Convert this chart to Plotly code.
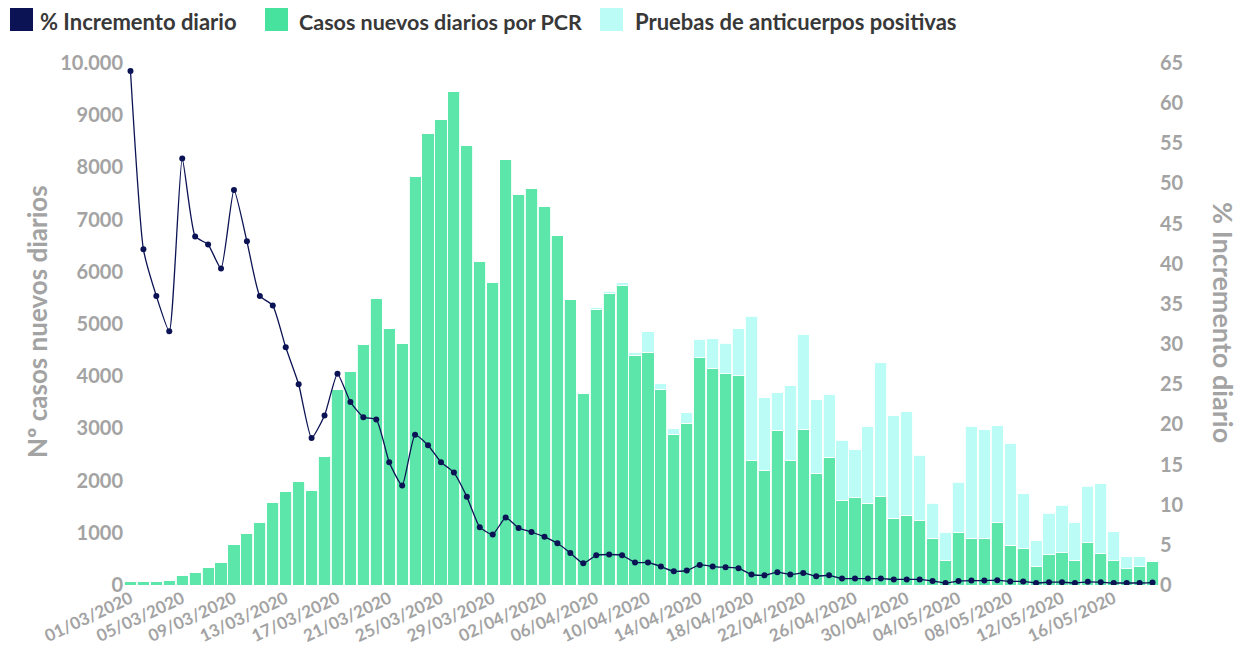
import datetime as dt
import plotly.graph_objects as go

# ---------------- data ----------------
fechas = [(dt.date(2020, 3, 1) + dt.timedelta(days=i)).strftime("%d/%m/%Y") for i in range(80)]

casos_pcr = [60, 65, 75, 90, 190, 230, 330, 440, 770, 990,
             1200, 1580, 1800, 1980, 1810, 2470, 3740, 4090, 4600, 5480,
             4920, 4620, 7820, 8650, 8920, 9450, 8420, 6200, 5800, 8150,
             7480, 7600, 7260, 6700, 5470, 3670, 5270, 5590, 5730, 4400,
             4460, 3740, 2890, 3100, 4350, 4140, 4050, 4010, 2380, 2190,
             2960, 2380, 2970, 2140, 2450, 1610, 1670, 1570, 1690, 1280,
             1340, 1240, 900, 460, 1010, 900, 900, 1200, 760, 690,
             350, 590, 620, 470, 820, 600, 460, 310, 350, 450]

total_con_anticuerpos = [60, 65, 75, 90, 190, 230, 330, 440, 770, 990,
                         1200, 1580, 1800, 1980, 1810, 2470, 3740, 4090, 4600, 5480,
                         4920, 4620, 7820, 8650, 8920, 9450, 8420, 6200, 5800, 8150,
                         7480, 7600, 7260, 6700, 5470, 3670, 5320, 5630, 5790, 4460,
                         4850, 3860, 2990, 3300, 4710, 4720, 4630, 4910, 5150, 3590,
                         3680, 3820, 4800, 3550, 3640, 2770, 2590, 3030, 4260, 3240,
                         3320, 2490, 1570, 1010, 1970, 3040, 2970, 3050, 2720, 1750,
                         850, 1370, 1530, 1190, 1890, 1940, 1020, 540, 540, 450]

anticuerpos = [t - p for t, p in zip(total_con_anticuerpos, casos_pcr)]

incremento = [64.0, 41.8, 36.0, 31.6, 53.1, 43.4, 42.4, 39.4, 49.2, 42.8,
              36.0, 34.8, 29.6, 25.0, 18.3, 21.1, 26.3, 22.8, 20.9, 20.6,
              15.3, 12.4, 18.7, 17.4, 15.3, 14.0, 11.0, 7.2, 6.3, 8.4,
              7.1, 6.6, 6.0, 5.2, 4.0, 2.7, 3.7, 3.8, 3.7, 2.8,
              2.8, 2.3, 1.7, 1.8, 2.5, 2.3, 2.2, 2.1, 1.3, 1.2,
              1.6, 1.3, 1.5, 1.1, 1.2, 0.8, 0.8, 0.8, 0.8, 0.7,
              0.7, 0.7, 0.5, 0.25, 0.5, 0.55, 0.55, 0.6, 0.45, 0.45,
              0.25, 0.35, 0.35, 0.25, 0.4, 0.35, 0.25, 0.25, 0.25, 0.3]

y_left_ticks = [0, 1000, 2000, 3000, 4000, 5000, 6000, 7000, 8000, 9000, 10000]
y_left_text = ["0", "1000", "2000", "3000", "4000", "5000", "6000", "7000", "8000", "9000", "10.000"]
x_tick_vals = fechas[::4]

legend_names = ["% Incremento diario", "Casos nuevos diarios por PCR", "Pruebas de anticuerpos positivas"]

# ---------------- style ----------------
NAVY = "#0b1354"
GREEN = "#5ce6aa"
GREEN_SW = "#48e29f"
CYAN = "#bbfdf6"
GREY = "#a3a3a3"
FONT = "Lato"

# page body has an 8px margin: work in screen pixels, shift by OFF
OFF = 8
W, H = 1247 - 2 * OFF, 653 - 2 * OFF
PLOT_L, PLOT_R, PLOT_T, PLOT_B = 124, 1159, 63, 585   # screen px of plot area
L = PLOT_L - OFF
R = W - (PLOT_R - OFF)
T = PLOT_T - OFF
B = H - (PLOT_B - OFF)
PW, PH = W - L - R, H - T - B


def xp(px):
    return (px - PLOT_L) / PW


def yp(py):
    return (PLOT_B - py) / PH


fig = go.Figure()

fig.add_trace(go.Bar(
    x=fechas, y=casos_pcr, name=legend_names[1],
    marker=dict(color=GREEN, line=dict(color="rgba(255,255,255,0.85)", width=1)),
    yaxis="y"))
fig.add_trace(go.Bar(
    x=fechas, y=anticuerpos, name=legend_names[2],
    marker=dict(color=CYAN, line=dict(color="rgba(255,255,255,0.85)", width=1)),
    yaxis="y"))
fig.add_trace(go.Scatter(
    x=fechas, y=incremento, name=legend_names[0], mode="lines+markers",
    line=dict(color=NAVY, width=1.3, shape="spline", smoothing=0.5),
    marker=dict(color=NAVY, size=6),
    yaxis="y2"))

# manual legend (swatches + labels)
shapes = []
annotations = []
legend_pos = [(10, 38, NAVY, 22), (265, 297, GREEN_SW, 21.5), (600, 633, CYAN, 22)]
for nm, (sx, tx, col, fs) in zip(legend_names, legend_pos):
    shapes.append(dict(type="rect", xref="paper", yref="paper",
                       x0=xp(sx), x1=xp(sx + 23), y0=yp(31), y1=yp(8),
                       fillcolor=col, line=dict(width=0), layer="above"))
    annotations.append(dict(text=nm, xref="paper", yref="paper",
                            x=xp(tx), y=yp(21.5), xanchor="left", yanchor="middle",
                            showarrow=False,
                            font=dict(family=FONT, size=fs, color="#383838", weight="bold")))

# small mark at top-left
shapes.append(dict(type="line", xref="paper", yref="paper",
                   x0=xp(0), x1=xp(8), y0=yp(52), y1=yp(52),
                   line=dict(color="black", width=2)))

annotations += [
    dict(text="Nº casos nuevos diarios", xref="paper", yref="paper",
         x=xp(37), y=yp(322), textangle=-90,
         showarrow=False, xanchor="center", yanchor="middle",
         font=dict(family=FONT, size=26, color=GREY, weight="bold")),
    dict(text="% Incremento diario", xref="paper", yref="paper",
         x=xp(1224), y=yp(322), textangle=90,
         showarrow=False, xanchor="center", yanchor="middle",
         font=dict(family=FONT, size=27, color=GREY, weight="bold")),
]

fig.update_layout(
    width=W, height=H,
    margin=dict(l=L, r=R, t=T, b=B, pad=0, autoexpand=False),
    paper_bgcolor="white", plot_bgcolor="white",
    barmode="stack", bargap=0.06, showlegend=False,
    font=dict(family=FONT, color=GREY),
    xaxis=dict(type="category", range=[-0.5, 79.5], tickmode="array",
               tickvals=x_tick_vals, ticktext=x_tick_vals, tickangle=-25,
               tickfont=dict(family=FONT, size=17, color=GREY, weight="bold"),
               showgrid=False, showline=False, zeroline=False, ticks="",
               automargin=False),
    yaxis=dict(range=[0, 10000], tickmode="array", tickvals=y_left_ticks,
               ticktext=y_left_text,
               tickfont=dict(family=FONT, size=20, color=GREY, weight="bold"),
               showgrid=False, showline=False, zeroline=False, ticks="",
               automargin=False),
    yaxis2=dict(range=[0, 65], dtick=5, overlaying="y", side="right",
                tickfont=dict(family=FONT, size=20, color=GREY, weight="bold"),
                showgrid=False, showline=False, zeroline=False, ticks="",
                automargin=False),
    shapes=shapes,
    annotations=annotations,
)

fig.write_html("out.html")
